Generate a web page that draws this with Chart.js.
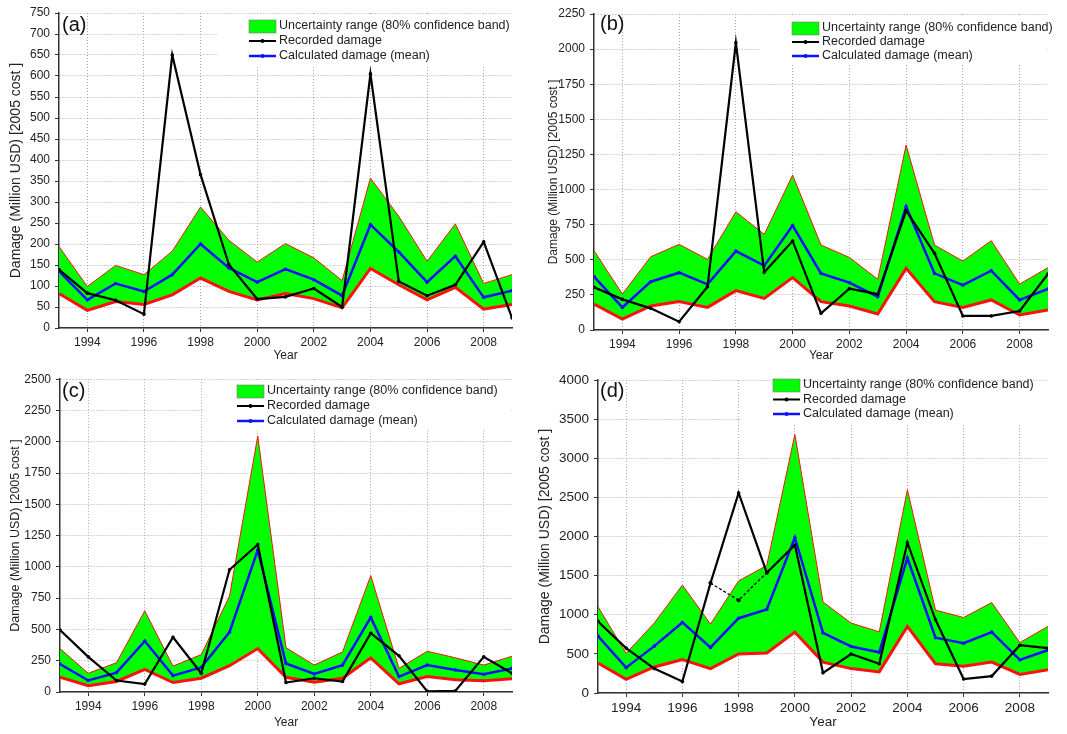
<!DOCTYPE html>
<html>
<head>
<meta charset="utf-8">
<script src="https://cdn.jsdelivr.net/npm/chart.js@4.4.0/dist/chart.umd.min.js"></script>
<style>
  html, body { margin: 0; padding: 0; background: #fff; }
  .panel { position: absolute; }
</style>
</head>
<body>
<div class="panel" style="left:0;top:0"><canvas id="chartA" width="533" height="367"></canvas></div>
<div class="panel" style="left:533px;top:0"><canvas id="chartB" width="534" height="367"></canvas></div>
<div class="panel" style="left:0;top:367px"><canvas id="chartC" width="533" height="367"></canvas></div>
<div class="panel" style="left:533px;top:367px"><canvas id="chartD" width="534" height="367"></canvas></div>
<script>
var years = [1993, 1994, 1995, 1996, 1997, 1998, 1999, 2000, 2001, 2002, 2003, 2004, 2005, 2006, 2007, 2008, 2009];
var yearTicks = [1994, 1996, 1998, 2000, 2002, 2004, 2006, 2008];

// (a)
var upperA = [194, 99, 149, 127, 183, 288, 209, 157, 201, 167, 113, 357, 266, 159, 248, 106, 127];
var lowerA = [82, 42, 63, 56, 79, 119, 87, 67, 82, 70, 48, 142, 103, 67, 97, 45, 56];
var meanA = [135, 67, 106, 87, 127, 200, 143, 109, 140, 115, 77, 246, 181, 109, 171, 73, 89];
var recordedA = [139, 83, 66, 33, 650, 365, 151, 69, 74, 94, 50, 605, 111, 77, 103, 205, 24];

// (b)
var upperB = [565, 256, 522, 610, 503, 842, 681, 1103, 605, 517, 361, 1317, 605, 491, 636, 327, 444];
var lowerB = [185, 78, 171, 202, 161, 280, 225, 373, 202, 171, 114, 439, 202, 161, 214, 107, 142];
var meanB = [380, 161, 344, 408, 325, 562, 458, 743, 403, 337, 237, 878, 403, 320, 422, 214, 292];
var recordedB = [304, 218, 154, 59, 308, 2045, 411, 634, 119, 294, 255, 850, 546, 100, 100, 135, 399];

// (c)
var upperC = [347, 150, 234, 649, 207, 299, 767, 2046, 355, 215, 320, 930, 189, 326, 273, 215, 286];
var lowerC = [118, 50, 84, 181, 76, 110, 210, 347, 118, 79, 110, 273, 66, 123, 97, 89, 105];
var meanC = [223, 92, 155, 407, 131, 197, 478, 1134, 228, 144, 215, 596, 123, 215, 176, 142, 189];
var recordedC = [496, 281, 92, 63, 438, 150, 977, 1179, 76, 110, 84, 470, 289, 5, 10, 281, 150];

// (d)
var upperD = [1102, 507, 894, 1380, 881, 1434, 1630, 3306, 1164, 894, 782, 2599, 1060, 965, 1156, 644, 852];
var lowerD = [383, 175, 333, 428, 312, 499, 511, 778, 395, 312, 270, 852, 374, 341, 395, 237, 299];
var meanD = [728, 324, 599, 902, 582, 956, 1069, 1988, 769, 595, 520, 1726, 707, 636, 778, 424, 549];
var recordedD = [915, 574, 312, 146, 1405, 2557, 1538, 1892, 258, 499, 374, 1921, 936, 179, 216, 611, 574];
var altRecordedD = [null, null, null, null, 1405, 1186, 1538, null, null, null, null, null, null, null, null, null, null];

var legendTexts = ["Uncertainty range (80% confidence band)", "Recorded damage", "Calculated damage (mean)"];
var yTitle = "Damage (Million USD) [2005 cost ]";

Chart.defaults.font.family = "'Liberation Sans', Arial, sans-serif";

function pts(arr) {
  return years.map(function (y, i) { return { x: y, y: arr[i] }; });
}

// legend box + panel letter drawn inside the plot
const panelDecor = {
  id: "panelDecor",
  afterDraw: function (chart, args, o) {
    const ctx = chart.ctx;
    const area = chart.chartArea;
    ctx.save();
    ctx.fillStyle = "#fff";
    ctx.fillRect(o.x - 32, area.top + 1, area.right - o.x + 31, o.y + 2 * o.gap + 8 - area.top);

    // green band swatch
    ctx.fillStyle = "#00ff00";
    ctx.fillRect(o.x, o.y - 6, 27, 13);
    ctx.strokeStyle = "#7a7a7a";
    ctx.lineWidth = 0.6;
    ctx.strokeRect(o.x, o.y - 6, 27, 13);

    // line swatches
    [["#000", 2], ["#1010ff", 2.5]].forEach(function (s, i) {
      const yy = o.y + (i + 1) * o.gap;
      ctx.strokeStyle = s[0];
      ctx.lineWidth = s[1];
      ctx.beginPath();
      ctx.moveTo(o.x, yy);
      ctx.lineTo(o.x + 27, yy);
      ctx.stroke();
      ctx.fillStyle = s[0];
      ctx.beginPath();
      ctx.arc(o.x + 13.5, yy, 2, 0, Math.PI * 2);
      ctx.fill();
    });

    ctx.fillStyle = "#222";
    ctx.font = o.fontSize + "px 'Liberation Sans', Arial, sans-serif";
    ctx.textBaseline = "middle";
    ctx.textAlign = "left";
    legendTexts.forEach(function (t, i) {
      ctx.fillText(t, o.x + 30, o.y + i * o.gap);
    });

    ctx.font = "20px 'Liberation Sans', Arial, sans-serif";
    ctx.fillStyle = "#111";
    ctx.fillText(o.letter, o.lx, o.ly);
    ctx.restore();
  }
};

function buildChart(id, p) {
  var datasets = [
    { data: pts(p.upper), borderColor: "#ff1010", borderWidth: 1, backgroundColor: "#00ff00", fill: "+1", pointRadius: 0, order: 3 },
    { data: pts(p.lower), borderColor: "#ff1010", borderWidth: 3, fill: false, pointRadius: 0, order: 2 },
    { data: pts(p.mean), borderColor: "#1010ff", borderWidth: 2.5, pointRadius: 1.8, pointBackgroundColor: "#1010ff", pointBorderWidth: 0, fill: false, order: 1 },
    { data: pts(p.recorded), borderColor: "#000", borderWidth: 2.2, pointRadius: 1.8, pointBackgroundColor: "#000", pointBorderWidth: 0, fill: false, order: 0 }
  ];
  if (p.alt) {
    datasets.push({ data: pts(p.alt), borderColor: "#000", borderWidth: 1.3, borderDash: [3, 2], pointRadius: 2, pointBackgroundColor: "#000", pointBorderWidth: 0, fill: false, spanGaps: false, order: 0 });
  }

  var gridOpts = { color: "#a8a8a8", lineWidth: 1, tickColor: "#333", tickLength: 4, tickBorderDash: [], tickWidth: 1 };
  var borderOpts = { color: "#333", width: 1.5, dash: [1, 2] };

  new Chart(document.getElementById(id), {
    type: "line",
    data: { datasets: datasets },
    options: {
      responsive: false,
      animation: false,
      devicePixelRatio: 1,
      elements: { line: { tension: 0 } },
      layout: { padding: { top: p.padTop, right: p.padRight, bottom: 0, left: 0 } },
      plugins: {
        legend: { display: false },
        tooltip: { enabled: false },
        panelDecor: p.decor
      },
      scales: {
        x: {
          type: "linear",
          min: 1993,
          max: 2009,
          afterBuildTicks: function (s) {
            s.ticks = yearTicks.map(function (v) { return { value: v }; });
          },
          afterFit: function (s) { s.height = p.xh; },
          grid: gridOpts,
          border: borderOpts,
          ticks: {
            color: "#222",
            font: { size: p.tickSize },
            padding: 3,
            maxRotation: 0,
            autoSkip: false,
            callback: function (v) { return String(v); }
          },
          title: { display: true, text: "Year", color: "#222", font: { size: p.tickSize }, padding: { top: 0, bottom: 4 } }
        },
        y: {
          min: 0,
          max: p.max,
          afterFit: function (s) { s.width = p.yw; },
          grid: gridOpts,
          border: borderOpts,
          ticks: {
            stepSize: p.step,
            color: "#222",
            font: { size: p.tickSize },
            padding: 5,
            autoSkip: false,
            callback: function (v) { return String(v); }
          },
          title: { display: true, text: yTitle, color: "#222", font: { size: p.titleSize }, padding: { top: p.titlePad, bottom: 0 } }
        }
      }
    },
    plugins: [panelDecor]
  });
}

buildChart("chartA", {
  upper: upperA, lower: lowerA, mean: meanA, recorded: recordedA,
  max: 750, step: 50, padTop: 13, padRight: 21, yw: 59, xh: 39, titleSize: 14, titlePad: 8, tickSize: 12,
  decor: { x: 249, y: 26, gap: 15, fontSize: 12.5, letter: "(a)", lx: 62, ly: 25 }
});
buildChart("chartB", {
  upper: upperB, lower: lowerB, mean: meanB, recorded: recordedB,
  max: 2250, step: 250, padTop: 14, padRight: 19, yw: 61, xh: 37, titleSize: 12, titlePad: 13, tickSize: 12,
  decor: { x: 259, y: 28, gap: 14, fontSize: 12.5, letter: "(b)", lx: 67, ly: 24 }
});
buildChart("chartC", {
  upper: upperC, lower: lowerC, mean: meanC, recorded: recordedC,
  max: 2500, step: 250, padTop: 8, padRight: 21, yw: 60, xh: 42, titleSize: 12.5, titlePad: 8, tickSize: 12,
  decor: { x: 237, y: 24, gap: 15, fontSize: 12.5, letter: "(c)", lx: 62, ly: 24 }
});
buildChart("chartD", {
  upper: upperD, lower: lowerD, mean: meanD, recorded: recordedD, alt: altRecordedD,
  max: 4000, step: 500, padTop: 6, padRight: 19, yw: 65, xh: 41, titleSize: 14, titlePad: 4, tickSize: 13.5,
  decor: { x: 240, y: 18, gap: 14.5, fontSize: 12.5, letter: "(d)", lx: 67, ly: 24 }
});
</script>
</body>
</html>
